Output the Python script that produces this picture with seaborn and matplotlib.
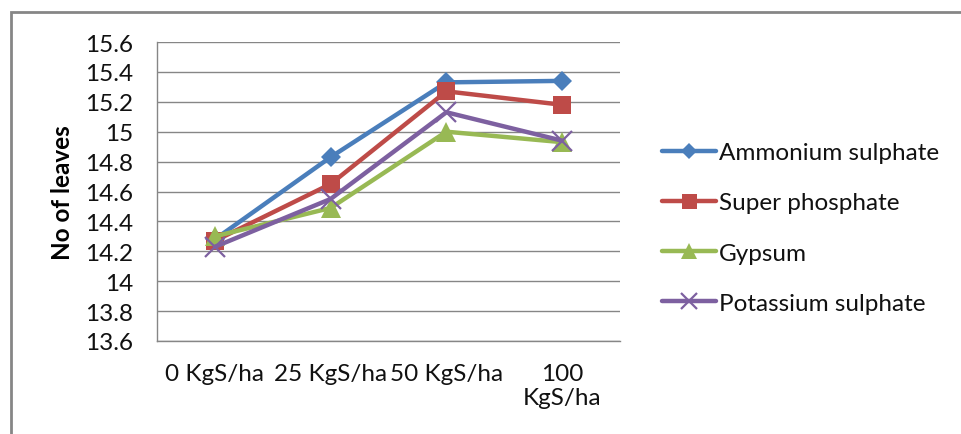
import matplotlib
matplotlib.use("Agg")
import matplotlib.pyplot as plt
import matplotlib.patches as mpatches
import pandas as pd
import seaborn as sns

# Sulphur doses applied (KgS/ha) and their axis labels
doses = ["0 KgS/ha", "25 KgS/ha", "50 KgS/ha", "100 KgS/ha"]
dose_labels = ["0 KgS/ha", "25 KgS/ha", "50 KgS/ha", "100\nKgS/ha"]

# Mean number of leaves per sulphur source
ammonium_sulphate = [14.28, 14.83, 15.33, 15.34]
super_phosphate = [14.27, 14.65, 15.27, 15.18]
gypsum = [14.30, 14.49, 15.00, 14.93]
potassium_sulphate = [14.23, 14.55, 15.13, 14.94]

series_names = ["Ammonium sulphate", "Super phosphate", "Gypsum", "Potassium sulphate"]
series_values = [ammonium_sulphate, super_phosphate, gypsum, potassium_sulphate]

y_ticks = [13.6, 13.8, 14.0, 14.2, 14.4, 14.6, 14.8, 15.0, 15.2, 15.4, 15.6]
y_tick_labels = ["13.6", "13.8", "14", "14.2", "14.4", "14.6", "14.8", "15", "15.2", "15.4", "15.6"]

rows = []
for name, vals in zip(series_names, series_values):
    for d, v in zip(doses, vals):
        rows.append({"Dose": d, "Leaves": v, "Source": name})
df = pd.DataFrame(rows)

sns.set_theme(style="white")
plt.rcParams["font.family"] = ["Lato", "DejaVu Sans"]

FS = 17.5
TEXT = "#111111"

styles = {
    "Ammonium sulphate": dict(color="#4A7EBB", marker="D", ms=10.5, mew=0),
    "Super phosphate": dict(color="#BE4B48", marker="s", ms=13.5, mew=0),
    "Gypsum": dict(color="#98B954", marker="^", ms=15, mew=0),
    "Potassium sulphate": dict(color="#7D60A0", marker="x", ms=14, mew=1.6),
}

fig = plt.figure(figsize=(9.61, 4.35), dpi=100)
ax = fig.add_axes([157 / 961, 93 / 435, (620 - 157) / 961, (392 - 93) / 435])

for name in series_names:
    st = styles[name]
    sns.lineplot(
        data=df[df["Source"] == name], x="Dose", y="Leaves", sort=False,
        color=st["color"], marker=st["marker"], markersize=st["ms"],
        markeredgewidth=st["mew"], markeredgecolor=st["color"],
        linewidth=3.2, ax=ax, label=name, legend=False,
    )

ax.set_xlim(-0.5, 3.5)
ax.set_ylim(13.6, 15.6)
ax.set_yticks(y_ticks)
ax.set_yticklabels(y_tick_labels)
ax.set_xticks(range(len(doses)))
ax.set_xticklabels(dose_labels, linespacing=1.15)
ax.grid(axis="y", color="#868686", linewidth=1.0)
ax.set_axisbelow(True)
for side in ("top", "right"):
    ax.spines[side].set_visible(False)
for side in ("left", "bottom"):
    ax.spines[side].set_color("#868686")
    ax.spines[side].set_linewidth(1.0)
ax.tick_params(axis="both", length=0, labelsize=FS, colors=TEXT)
ax.tick_params(axis="y", pad=17)
ax.tick_params(axis="x", pad=16)
ax.set_xlabel("")
ax.set_ylabel("No of leaves", fontsize=FS, fontweight="bold", color="#000000", labelpad=8)

handles = [l for l in ax.get_lines() if l.get_label() in series_names]
leg = fig.legend(
    handles=handles, labels=series_names, loc="center left",
    bbox_to_anchor=(650 / 961, (435 - 229) / 435), frameon=False,
    fontsize=FS, handlelength=2.2, handletextpad=0.15, labelspacing=1.2,
    markerscale=0.8, borderpad=0,
)
for t in leg.get_texts():
    t.set_color(TEXT)

# Outer chart-area frame
frame = mpatches.Rectangle(
    (11 / 961, -0.2), 1.2, (435 - 13) / 435 + 0.2,
    transform=fig.transFigure, fill=False, edgecolor="#868686", linewidth=2.0,
    clip_on=False,
)
fig.patches.append(frame)

fig.savefig("out.png", dpi=100)
